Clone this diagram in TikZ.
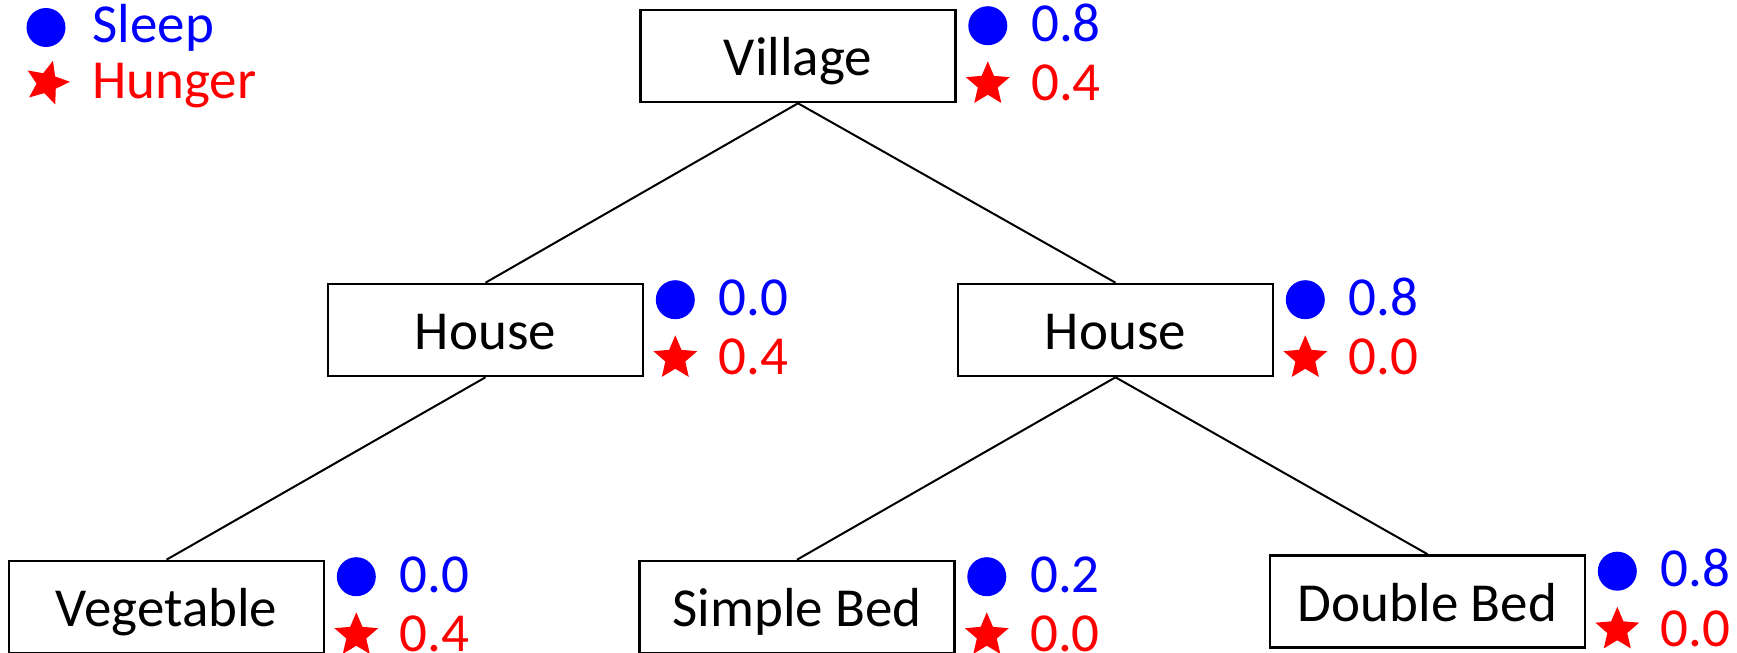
\documentclass[tikz,border=0pt]{standalone}
\usepackage{fontspec}
\setmainfont{Carlito}
\usetikzlibrary{shapes.geometric,calc}
\definecolor{sleepblue}{RGB}{0,0,255}
\definecolor{hungerred}{RGB}{255,0,0}
\tikzset{
  box/.style={draw=black, line width=1.3pt, rectangle, minimum width=157.5pt, minimum height=46pt,
    inner sep=0pt, text height=19.7pt, text depth=0pt, font=\fontsize{27.5}{33}\selectfont},
  link/.style={draw=black, line width=1pt},
  sleepdot/.style={circle, fill=sleepblue, draw=none, minimum size=19.5pt, inner sep=0pt},
  hungerstar/.style={star, star points=5, star point ratio=2.2, fill=hungerred, draw=none, minimum size=23pt, inner sep=0pt},
  sleeptxt/.style={anchor=base west, inner sep=0pt, text=sleepblue, font=\fontsize{27.5}{33}\selectfont},
  hungertxt/.style={anchor=base west, inner sep=0pt, text=hungerred, font=\fontsize{27.5}{33}\selectfont},
}
\newcommand{\annotvals}[3]{%
  \node[sleepdot] (#1-sd) at ($(#1.north east)+(31,17)$) {};
  \node[hungerstar] (#1-hs) at ($(#1.south east)+(31,-19)$) {};
  \node[sleeptxt] (#1-sv) at ($(#1-sd.center)+(43,15.5)$) {#2};
  \node[hungertxt] (#1-hv) at ($(#1-hs.center)+(43,16.5)$) {#3};
}
\begin{document}
\begin{tikzpicture}[x=0.5pt,y=-0.5pt]
\useasboundingbox (0,0) rectangle (1737,653);
% legend
\node[sleepdot] (lg-sd) at (46,27.5) {};
\node[hungerstar, shape border rotate=-15] (lg-hs) at (47,83) {};
\node[sleeptxt] (lg-st) at (92,42) {Sleep};
\node[hungertxt] (lg-ht) at (92,98) {Hunger};
% boxes
\node[box] (village) at (798,56) {Village};
\node[box] (houseL) at (485.5,330) {House};
\node[box] (houseR) at (1115.5,330) {House};
\node[box] (veg) at (166.5,607) {Vegetable};
\node[box] (sbed) at (797,607) {Simple Bed};
\node[box] (dbed) at (1427.5,601.5) {Double Bed};
% links
\draw[link] (village.south) -- (houseL.north);
\draw[link] (village.south) -- (houseR.north);
\draw[link] (houseL.south) -- (veg.north);
\draw[link] (houseR.south) -- (sbed.north);
\draw[link] (houseR.south) -- (dbed.north);
% values
\annotvals{village}{0.8}{0.4}
\annotvals{houseL}{0.0}{0.4}
\annotvals{houseR}{0.8}{0.0}
\annotvals{veg}{0.0}{0.4}
\annotvals{sbed}{0.2}{0.0}
\annotvals{dbed}{0.8}{0.0}
\end{tikzpicture}
\end{document}
